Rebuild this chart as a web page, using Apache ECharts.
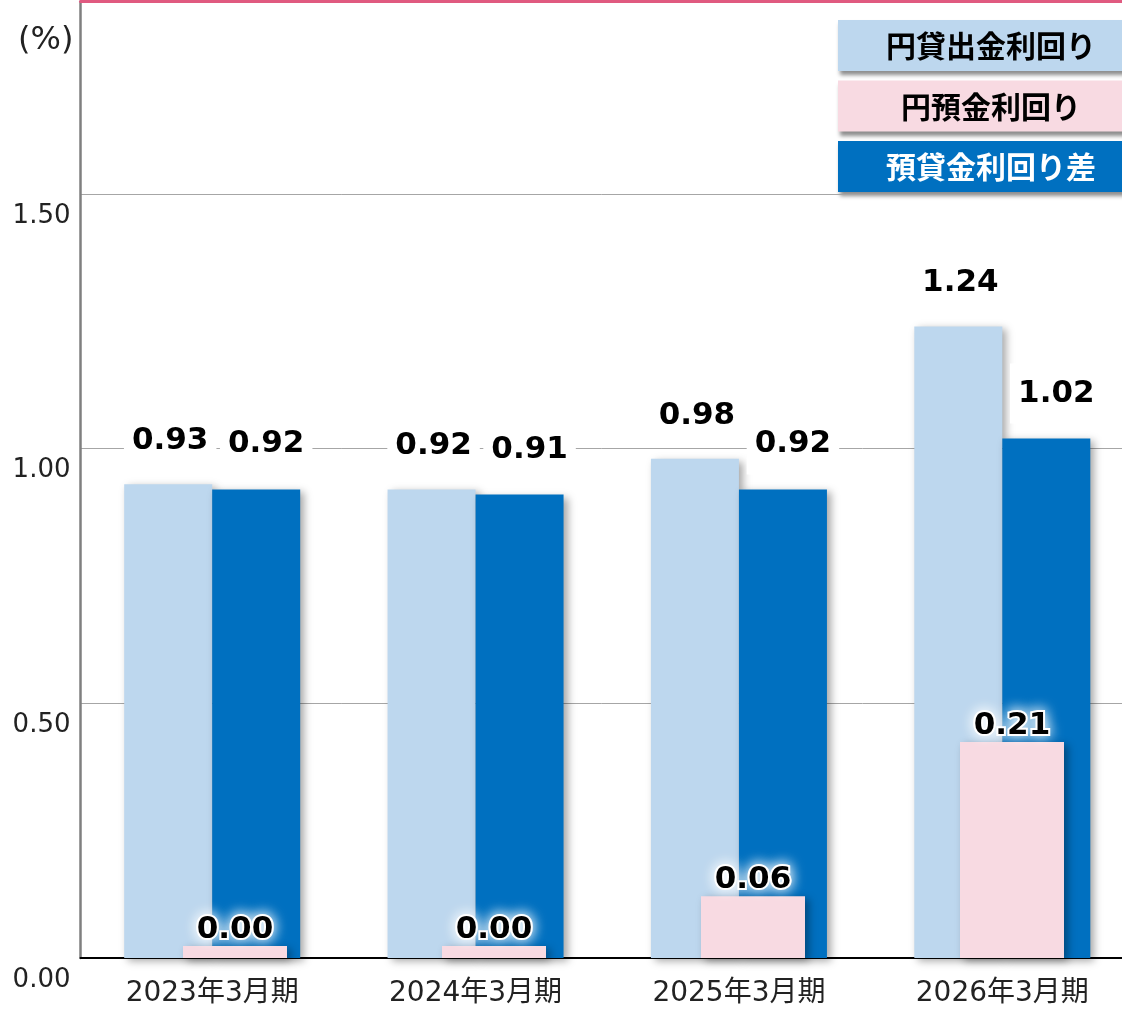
<!DOCTYPE html>
<html>
<head>
<meta charset="utf-8">
<script src="https://cdn.jsdelivr.net/npm/echarts@6/dist/echarts.min.js"></script>
<style>
  html, body { margin: 0; padding: 0; background: #fff; }
  #chart { width: 1122px; height: 1009px; }
</style>
</head>
<body>
<div id="chart"></div>
<script>
// 決算期
const categories = ['2023年3月期', '2024年3月期', '2025年3月期', '2026年3月期']
// 円貸出金利回り
const loanYield = [0.93, 0.92, 0.98, 1.24]
// 円預金利回り
const depositYield = [0.00, 0.00, 0.06, 0.21]
// 預貸金利回り差
const spread = [0.92, 0.91, 0.92, 1.02]
const seriesNames = ['円貸出金利回り', '円預金利回り', '預貸金利回り差']
const colors = ['#bdd7ee', '#f8dae2', '#0070c0']

const numFont = '"DejaVu Sans", "Noto Sans CJK JP", sans-serif'
const cjkFont = '"Noto Sans CJK JP", sans-serif'
const yMax = 1.878

const barShadow = {
  shadowColor: 'rgba(0,0,0,0.35)',
  shadowBlur: 8,
  shadowOffsetX: 4,
  shadowOffsetY: 3
}

// 青い棒の数値ラベル（白い箱付き）
function boxLabel(distance, dx) {
  return {
    show: true,
    position: 'top',
    distance: distance,
    offset: [dx, 0],
    formatter: p => p.value.toFixed(2),
    fontFamily: numFont,
    fontWeight: 'bold',
    fontSize: 31,
    lineHeight: 36,
    color: '#000',
    backgroundColor: '#fff',
    padding: [12, 8]
  }
}

const chart = echarts.init(document.getElementById('chart'))

chart.setOption({
  animation: false,
  backgroundColor: '#fff',
  title: {
    text: '(%)',
    left: 13,
    top: 20,
    textStyle: { fontFamily: numFont, fontSize: 32, fontWeight: 'normal', color: '#222' }
  },
  grid: [
    { left: 80.5, right: -12, top: 1.5, bottom: 51, outerBoundsMode: 'none', containLabel: false },
    { left: 105.5, width: 1036, top: 1.5, bottom: 51, outerBoundsMode: 'none', containLabel: false }
  ],
  xAxis: [
    {
      type: 'category',
      gridIndex: 0,
      data: categories,
      axisTick: { show: false },
      axisLine: { lineStyle: { color: '#000', width: 2 } },
      axisLabel: { fontFamily: numFont, fontSize: 28, color: '#222', margin: 22 }
    },
    {
      // 上端のピンクの線
      type: 'category',
      gridIndex: 0,
      position: 'top',
      data: categories,
      axisTick: { show: false },
      axisLabel: { show: false },
      axisLine: { lineStyle: { color: '#e05a80', width: 3 } }
    },
    {
      type: 'category',
      gridIndex: 1,
      data: categories,
      show: false
    }
  ],
  yAxis: [
    {
      type: 'value',
      gridIndex: 0,
      min: 0,
      max: yMax,
      interval: 0.5,
      axisLine: { show: true, lineStyle: { color: '#7f7f7f', width: 2.5 } },
      axisTick: { show: false },
      splitLine: { lineStyle: { color: '#a6a6a6', width: 1 } },
      axisLabel: {
        showMaxLabel: false,
        formatter: v => v.toFixed(2),
        fontFamily: numFont,
        fontSize: 26,
        color: '#222',
        margin: 10,
        verticalAlign: 'top',
        padding: [9, 0, 0, 0]
      }
    },
    {
      type: 'value',
      gridIndex: 1,
      min: 0,
      max: 0.93,
      show: false,
      splitLine: { show: false }
    }
  ],
  graphic: seriesNames.map((name, i) => ({
    type: 'group',
    children: [
      {
        type: 'rect',
        shape: { x: 838, y: 20 + i * 60.5, width: 310, height: 51 },
        style: {
          fill: colors[i],
          shadowColor: 'rgba(0,0,0,0.45)',
          shadowBlur: 4,
          shadowOffsetX: 2,
          shadowOffsetY: 4
        }
      },
      {
        type: 'text',
        x: 991,
        y: 46 + i * 60.5,
        style: {
          text: name,
          fill: i === 2 ? '#fff' : '#000',
          font: 'bold 30px ' + cjkFont,
          align: 'center',
          verticalAlign: 'middle'
        }
      }
    ]
  })),
  series: [
    {
      name: seriesNames[0],
      type: 'bar',
      xAxisIndex: 0,
      yAxisIndex: 0,
      data: loanYield,
      barWidth: 88,
      barGap: '0%',
      itemStyle: Object.assign({ color: colors[0] }, barShadow),
      label: boxLabel(13, 2)
    },
    {
      name: seriesNames[2],
      type: 'bar',
      xAxisIndex: 0,
      yAxisIndex: 0,
      data: spread,
      barWidth: 88,
      barGap: '0%',
      itemStyle: Object.assign({ color: colors[2] }, barShadow),
      label: boxLabel(15, 10)
    },
    {
      name: seriesNames[1],
      type: 'bar',
      xAxisIndex: 2,
      yAxisIndex: 1,
      data: depositYield,
      barWidth: 104,
      barMinHeight: 12,
      itemStyle: Object.assign({ color: colors[1] }, barShadow),
      label: {
        show: true,
        position: 'top',
        distance: 1,
        formatter: p => p.value.toFixed(2),
        fontFamily: numFont,
        fontWeight: 'bold',
        fontSize: 31,
        color: '#000',
        textBorderColor: '#fff',
        textBorderWidth: 4,
        textShadowColor: '#fff',
        textShadowBlur: 14
      }
    }
  ]
})
</script>
</body>
</html>
